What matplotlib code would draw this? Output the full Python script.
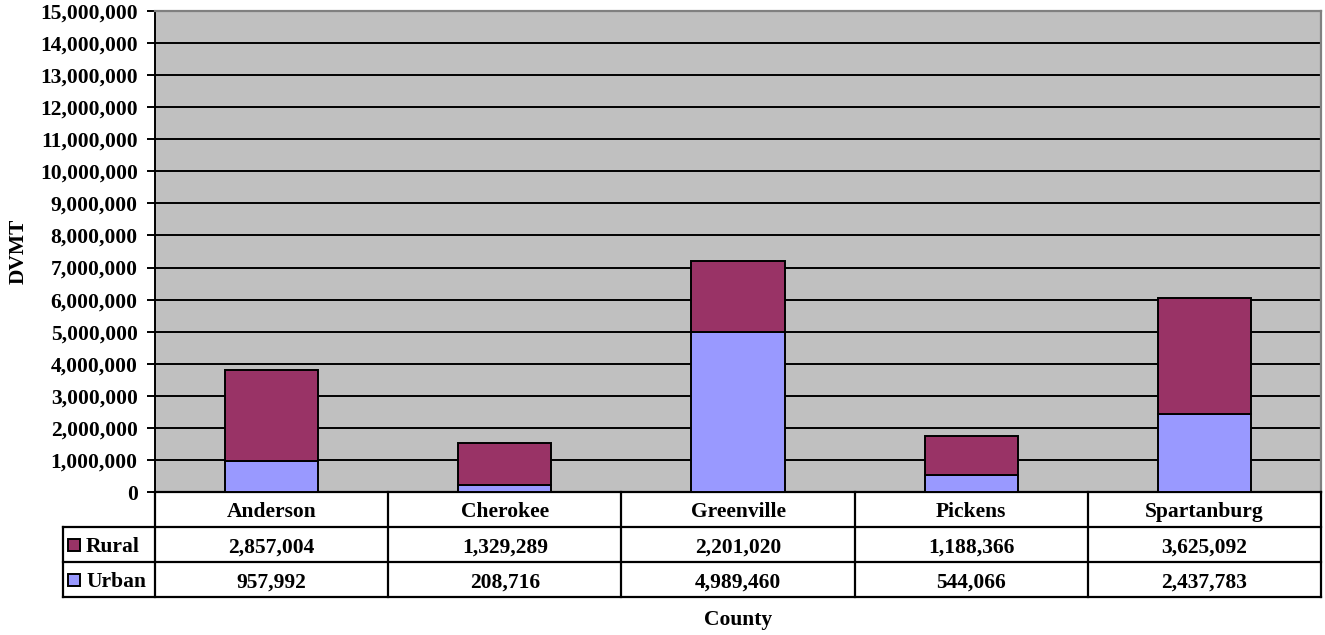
import matplotlib.pyplot as plt
from matplotlib.ticker import FuncFormatter, MultipleLocator
from matplotlib.patches import Rectangle

plt.rcParams['font.family'] = ['Liberation Serif', 'DejaVu Serif']
plt.rcParams['font.weight'] = 'bold'

counties = ['Anderson', 'Cherokee', 'Greenville', 'Pickens', 'Spartanburg']
rural = [2857004, 1329289, 2201020, 1188366, 3625092]
urban = [957992, 208716, 4989460, 544066, 2437783]

urban_color = '#9999FF'
rural_color = '#993366'
fs = 15.5

fig = plt.figure(figsize=(13.25, 6.35), dpi=100)
W, H = 1325, 635
# plot area in pixels
px0, px1, py0, py1 = 155, 1321, 11, 492
ax = fig.add_axes([px0 / W, 1 - py1 / H, (px1 - px0) / W, (py1 - py0) / H])
ax.set_facecolor('#C0C0C0')

x = range(len(counties))
ax.bar(x, urban, width=0.4, color=urban_color, edgecolor='black', linewidth=1.4, zorder=3)
ax.bar(x, rural, width=0.4, bottom=urban, color=rural_color, edgecolor='black', linewidth=1.4, zorder=3)

ax.set_xlim(-0.5, len(counties) - 0.5)
ax.set_ylim(0, 15000000)
ax.yaxis.set_major_locator(MultipleLocator(1000000))
ax.yaxis.set_major_formatter(FuncFormatter(lambda v, p: f'{int(v):,}'))
ax.grid(axis='y', color='black', linewidth=1.4, zorder=1)
ax.set_xticks([])
ax.tick_params(axis='y', length=5.5, width=1.4, labelsize=fs, pad=7)
for lab in ax.get_yticklabels():
    lab.set_fontweight('bold')
ax.spines['left'].set_color('black')
ax.spines['left'].set_linewidth(1.4)
ax.spines['bottom'].set_color('black')
ax.spines['bottom'].set_linewidth(1.6)
for s in ('top', 'right'):
    ax.spines[s].set_color('#808080')
    ax.spines[s].set_linewidth(1.6)
ax.set_ylabel('DVMT', fontsize=fs, fontweight='bold')
ax.yaxis.set_label_coords(-0.108, 0.5)

# data table under the plot
tx0, ty0, ty1 = 63, 492, 597
col_w = (px1 - px0) / len(counties)
leg_w = (px0 - tx0) / col_w
tab = fig.add_axes([tx0 / W, 1 - ty1 / H, (px1 - tx0) / W, (ty1 - ty0) / H])
tab.set_xlim(-0.5 - leg_w, len(counties) - 0.5)
tab.set_ylim(3, 0)
tab.axis('off')

lw = 1.6
left = -0.5 - leg_w
right = len(counties) - 0.5
for yy in (1, 2, 3):
    tab.plot([left, right], [yy, yy], color='black', lw=lw, clip_on=False, solid_capstyle='projecting')
tab.plot([left, left], [1, 3], color='black', lw=lw, clip_on=False, solid_capstyle='projecting')
for i in range(len(counties) + 1):
    tab.plot([i - 0.5, i - 0.5], [0, 3], color='black', lw=lw, clip_on=False, solid_capstyle='projecting')

base = 0.72  # baseline offset inside a row
for i, name in enumerate(counties):
    tab.text(i, 0 + base, name, ha='center', va='baseline', fontsize=fs, fontweight='bold')
    tab.text(i, 1 + base, f'{rural[i]:,}', ha='center', va='baseline', fontsize=fs, fontweight='bold')
    tab.text(i, 2 + base, f'{urban[i]:,}', ha='center', va='baseline', fontsize=fs, fontweight='bold')

sq_w = 12 / col_w
sq_h = 12 / 35
for row, (label, color) in enumerate([('Rural', rural_color), ('Urban', urban_color)]):
    yc = 1.52 + row
    tab.add_patch(Rectangle((left + 5 / col_w, yc - sq_h / 2), sq_w, sq_h,
                            facecolor=color, edgecolor='black', lw=1.4, clip_on=False))
    tab.text(left + 23 / col_w, 1 + row + base, label, ha='left', va='baseline',
             fontsize=fs, fontweight='bold')

fig.text((px0 + px1) / 2 / W, 1 - 620 / H, 'County', ha='center', va='center',
         fontsize=fs, fontweight='bold')

fig.savefig('out.png', dpi=100)
